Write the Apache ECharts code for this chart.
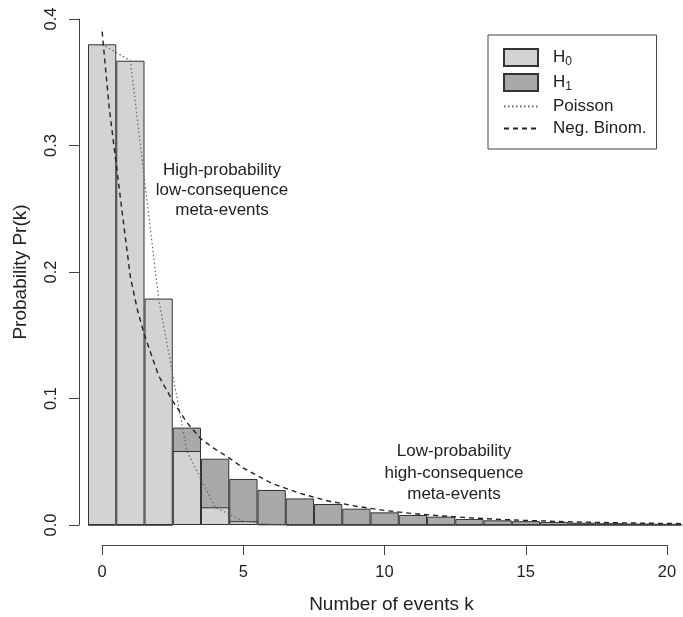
<!DOCTYPE html>
<html>
<head>
<meta charset="utf-8">
<script src="https://cdn.jsdelivr.net/npm/echarts@6/dist/echarts.min.js"></script>
<style>
  html, body { margin: 0; padding: 0; background: #fff; }
  #dom { width: 683px; height: 617px; }
</style>
</head>
<body>
<div id="dom"></div>
<script>
  // number of events k
  var kValues = [0, 1, 2, 3, 4, 5, 6, 7, 8, 9, 10, 11, 12, 13, 14, 15, 16, 17, 18, 19, 20];
  // H0 bars (light) and H1 bars (dark)
  var h0Values = [0.380, 0.367, 0.179, 0.0585, 0.014, 0.003, 0.0005, 0, 0, 0, 0, 0, 0, 0, 0, 0, 0, 0, 0, 0, 0];
  var h1Values = [0, 0, 0, 0.077, 0.0524, 0.0364, 0.0277, 0.021, 0.0166, 0.0129, 0.010, 0.0079, 0.0066, 0.0047, 0.0037, 0.003, 0.0024, 0.0018, 0.0014, 0.0011, 0.0009];
  // Poisson (dotted)
  var poissonK = [0, 1, 2, 3, 4, 5, 6, 7, 8, 21];
  var poissonP = [0.380, 0.367, 0.179, 0.0585, 0.014, 0.003, 0.0005, 0.0001, 0, 0];
  // negative binomial (dashed)
  var negBinK = [0, 0.25, 0.5, 0.75, 1, 1.25, 1.5, 2, 2.5, 3, 3.5, 4, 4.5, 5, 6, 7, 8, 9, 10, 11, 12, 13, 14, 15, 16, 17, 18, 19, 20, 21];
  var negBinP = [0.39, 0.33, 0.285, 0.24, 0.196, 0.17, 0.15, 0.118, 0.098, 0.081, 0.068, 0.060, 0.053, 0.045, 0.033, 0.025, 0.019, 0.0148, 0.0115, 0.009, 0.0072, 0.0057, 0.0045, 0.0036, 0.0029, 0.0023, 0.0018, 0.0015, 0.0012, 0.001];

  var font = 'Liberation Sans, Arial, sans-serif';
  var ink = '#222';
  var noSymbol = { color: 'rgba(0,0,0,0)', borderColor: 'rgba(0,0,0,0)', borderWidth: 0 };

  function pairs(xs, ys) {
    return xs.map(function (x, i) { return [x, ys[i]]; });
  }

  var chart = echarts.init(document.getElementById('dom'));
  var option = {
    backgroundColor: '#fff',
    animation: false,
    textStyle: { fontFamily: font },
    legend: {
      data: [
        { name: 'H0', icon: 'rect' },
        { name: 'H1', icon: 'rect' },
        { name: 'Poisson', itemStyle: noSymbol },
        { name: 'Neg. Binom.', itemStyle: noSymbol }
      ],
      orient: 'vertical',
      left: 488,
      top: 35,
      padding: [13, 10, 12, 15],
      borderColor: '#444',
      borderWidth: 1,
      itemWidth: 34,
      itemHeight: 17,
      itemGap: 5,
      formatter: function (name) {
        if (name === 'H0') return '{m|H}{s|0}';
        if (name === 'H1') return '{m|H}{s|1}';
        return '{m|' + name + '}';
      },
      textStyle: {
        color: ink,
        fontFamily: font,
        padding: [0, 0, 0, 10],
        rich: {
          m: { fontSize: 17, color: ink, fontFamily: font },
          s: { fontSize: 12, color: ink, fontFamily: font, padding: [9, 0, 0, 0] }
        }
      }
    },
    grid: [
      { left: 88, right: 0, top: 19, bottom: 92 },
      { left: 102, right: 16, top: 530, height: 15 }
    ],
    xAxis: [
      { type: 'value', gridIndex: 0, min: -0.5, max: 20.56, show: false },
      {
        type: 'value', gridIndex: 1, min: 0, max: 20, interval: 5,
        position: 'bottom',
        axisLine: { show: true, lineStyle: { color: '#444', width: 1 } },
        axisTick: { show: true, length: 10, lineStyle: { color: '#444' } },
        axisLabel: { color: ink, fontSize: 16.5, margin: 19, fontFamily: font },
        splitLine: { show: false },
        name: 'Number of events k',
        nameLocation: 'middle',
        nameGap: 50,
        nameTextStyle: { color: ink, fontSize: 19, fontFamily: font, padding: [0, 0, 0, 14] }
      }
    ],
    yAxis: [
      {
        type: 'value', gridIndex: 0, min: 0, max: 0.4, interval: 0.1,
        offset: 9,
        axisLine: { show: true, onZero: false, lineStyle: { color: '#444', width: 1 } },
        axisTick: { show: true, length: 10, lineStyle: { color: '#444' } },
        axisLabel: {
          color: ink, fontSize: 16.5, rotate: 90, margin: 19, fontFamily: font,
          formatter: function (v) { return v.toFixed(1); }
        },
        splitLine: { show: false },
        name: 'Probability Pr(k)',
        nameLocation: 'middle',
        nameGap: 49,
        nameTextStyle: { color: ink, fontSize: 19, fontFamily: font }
      },
      { type: 'value', gridIndex: 1, min: 0, max: 1, show: false }
    ],
    graphic: [
      {
        type: 'text', x: 222, y: 160,
        style: {
          text: 'High-probability\nlow-consequence\nmeta-events',
          textAlign: 'center', textVerticalAlign: 'top',
          fill: ink, font: '17px ' + font, lineHeight: 20
        }
      },
      {
        type: 'text', x: 454, y: 441,
        style: {
          text: 'Low-probability\nhigh-consequence\nmeta-events',
          textAlign: 'center', textVerticalAlign: 'top',
          fill: ink, font: '17px ' + font, lineHeight: 21.5
        }
      }
    ],
    series: [
      {
        name: 'H1', type: 'bar', xAxisIndex: 0, yAxisIndex: 0,
        barWidth: 28.25, barGap: '-100%',
        itemStyle: { color: '#a9a9a9', borderColor: '#333', borderWidth: 1 },
        data: pairs(kValues, h1Values)
      },
      {
        name: 'H0', type: 'bar', xAxisIndex: 0, yAxisIndex: 0,
        barWidth: 28.25, barGap: '-100%',
        itemStyle: { color: '#d3d3d3', borderColor: '#333', borderWidth: 1 },
        data: pairs(kValues, h0Values)
      },
      {
        name: 'Poisson', type: 'line', xAxisIndex: 0, yAxisIndex: 0,
        symbol: 'none',
        lineStyle: { color: '#666', width: 1.2, type: [1.5, 2.5] },
        itemStyle: { color: '#666' },
        data: pairs(poissonK, poissonP)
      },
      {
        name: 'Neg. Binom.', type: 'line', xAxisIndex: 0, yAxisIndex: 0,
        symbol: 'none',
        lineStyle: { color: '#222', width: 1.4, type: [5, 4] },
        itemStyle: { color: '#222' },
        data: pairs(negBinK, negBinP)
      }
    ]
  };
  chart.setOption(option);
</script>
</body>
</html>
